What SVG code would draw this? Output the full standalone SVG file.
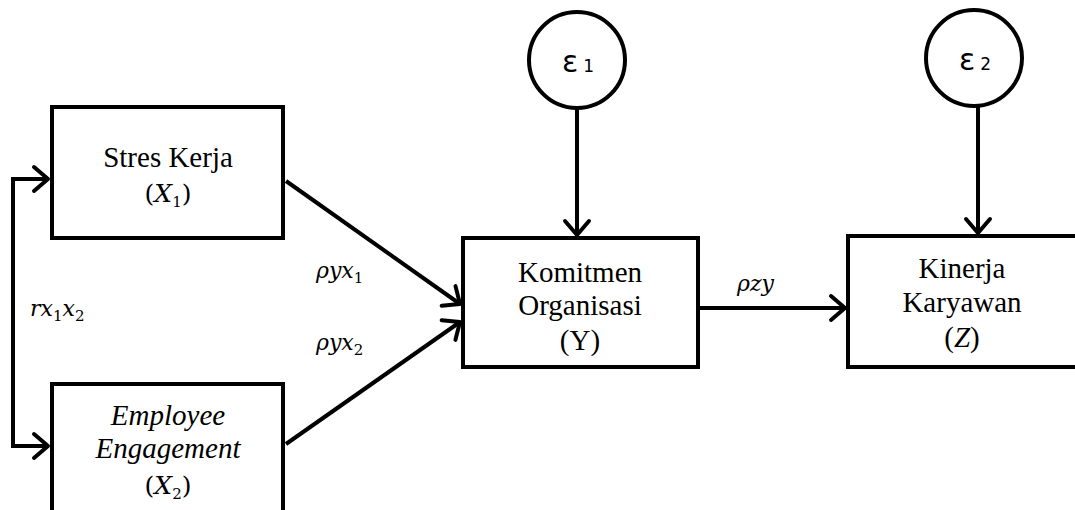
<svg xmlns="http://www.w3.org/2000/svg" width="1075" height="510" viewBox="0 0 1075 510">
<style>
.box{fill:#fff;stroke:#000;stroke-width:4}
.t{font-family:'Liberation Serif','Times New Roman',serif;font-size:29px;fill:#000;text-anchor:middle}
.mt{font-family:'DejaVu Serif',serif;font-size:25px;fill:#000;text-anchor:middle}
.m{font-family:'DejaVu Serif',serif;font-style:italic;font-size:22px;fill:#000}
.i{font-style:italic}
.s{font-size:15px;font-style:normal}
.e{font-family:'DejaVu Sans',sans-serif;font-size:30px;fill:#000;text-anchor:middle}
.c{fill:none;stroke:#000;stroke-width:4}
</style>
<defs>
<marker id="ah" markerUnits="userSpaceOnUse" markerWidth="24" markerHeight="30" refX="18" refY="15" orient="auto">
<path d="M4,3 L18,15 L4,27" fill="none" stroke="#000" stroke-width="4" stroke-linecap="round" stroke-linejoin="round"/>
</marker>
</defs>
<rect width="1075" height="510" fill="#fff"/>
<g id="connectors">
<path class="c" d="M48,179 H13 V446 H48" marker-end="url(#ah)"/>
<path class="c" d="M13,179 H48" marker-end="url(#ah)"/>
<path class="c" d="M286,181 L460,304" marker-end="url(#ah)"/>
<path class="c" d="M286,444 L460,322" marker-end="url(#ah)"/>
<path class="c" d="M577,108 V235" marker-end="url(#ah)"/>
<path class="c" d="M978,106 V233" marker-end="url(#ah)"/>
<path class="c" d="M700,308 H845" marker-end="url(#ah)"/>
<text class="m" x="30" y="316">rx<tspan class="s" dy="5">1</tspan><tspan dy="-5">x</tspan><tspan class="s" dy="5">2</tspan></text>
<text class="m" x="316" y="278">ρyx<tspan class="s" dy="5">1</tspan></text>
<text class="m" x="316" y="350">ρyx<tspan class="s" dy="5">2</tspan></text>
<text class="m" x="737" y="291">ρzy</text>
</g>
<g id="stres-kerja">
<rect class="box" x="52" y="107" width="231" height="131"/>
<text class="t" x="168" y="167">Stres Kerja</text>
<text class="mt" x="168" y="202">(<tspan class="i">X</tspan><tspan class="s" dy="5">1</tspan><tspan dy="-5">)</tspan></text>
</g>
<g id="employee-engagement">
<rect class="box" x="52" y="384" width="231" height="140"/>
<text class="t i" x="168" y="425">Employee</text>
<text class="t i" x="168" y="458">Engagement</text>
<text class="mt" x="168" y="494">(<tspan class="i">X</tspan><tspan class="s" dy="5">2</tspan><tspan dy="-5">)</tspan></text>
</g>
<g id="komitmen">
<rect class="box" x="463" y="238" width="235" height="129"/>
<text class="t" x="580" y="282">Komitmen</text>
<text class="t" x="580" y="315">Organisasi</text>
<text class="t" x="580" y="350">(Y)</text>
</g>
<g id="kinerja">
<rect class="box" x="848" y="236" width="240" height="131"/>
<text class="t" x="962" y="278">Kinerja</text>
<text class="t" x="962" y="312">Karyawan</text>
<text class="t" x="962" y="347">(<tspan class="i">Z</tspan>)</text>
</g>
<g id="e1">
<circle cx="577" cy="60" r="48" fill="#fff" stroke="#000" stroke-width="4"/>
<text class="e" x="578" y="72">ε<tspan font-size="17" dx="5">1</tspan></text>
</g>
<g id="e2">
<circle cx="974" cy="58" r="48" fill="#fff" stroke="#000" stroke-width="4"/>
<text class="e" x="975" y="70">ε<tspan font-size="17" dx="5">2</tspan></text>
</g>
</svg>
